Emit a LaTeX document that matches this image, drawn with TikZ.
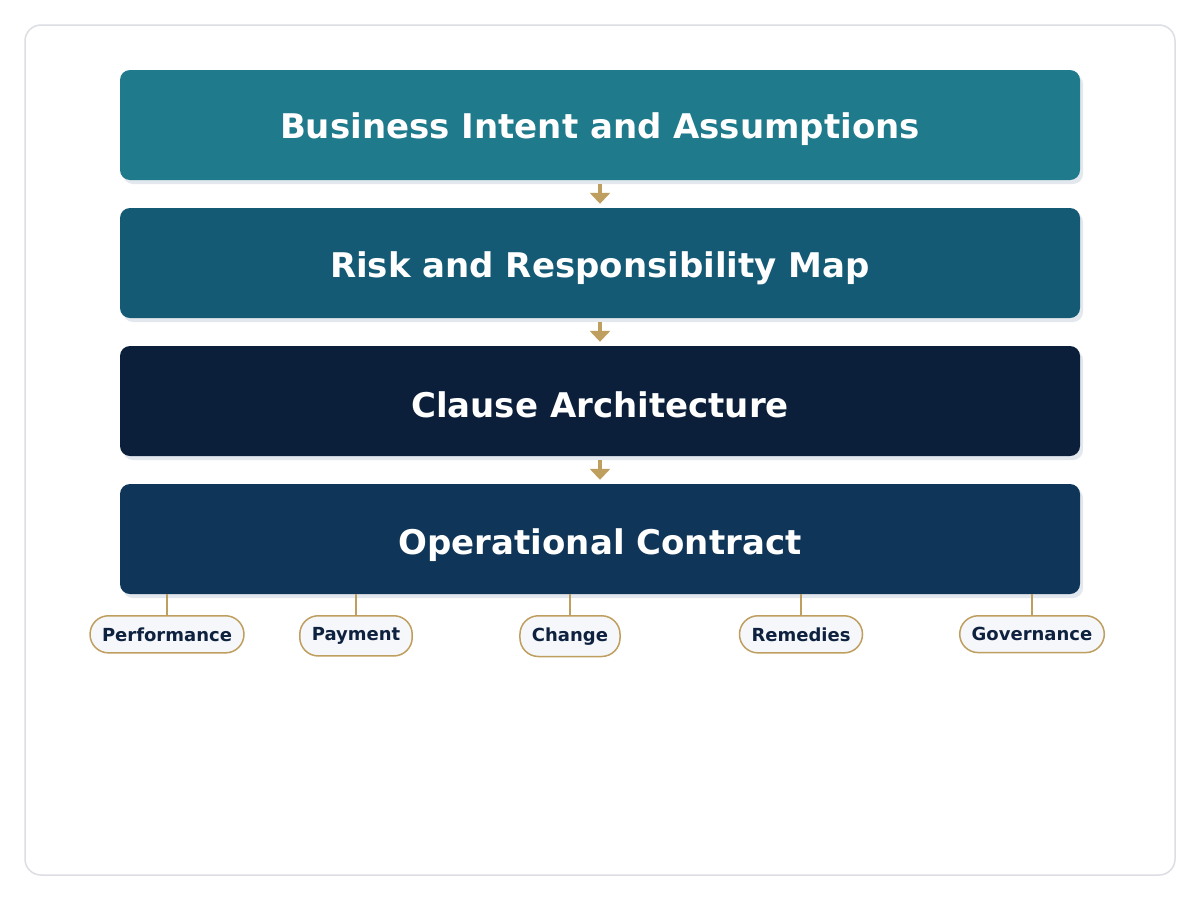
\documentclass[tikz,border=0pt]{standalone}
\usepackage{fontspec}
\setmainfont{DejaVu Sans}
\usetikzlibrary{arrows.meta,shadows}
\definecolor{frameC}{HTML}{DDDEE3}
\definecolor{shadowC}{HTML}{E3E8EE}
\definecolor{cA}{HTML}{1F7A8C}
\definecolor{cB}{HTML}{155A75}
\definecolor{cC}{HTML}{0B1F3A}
\definecolor{cD}{HTML}{0F3558}
\definecolor{gold}{HTML}{BF9F5F}
\definecolor{pillFill}{HTML}{F5F7FA}
\definecolor{navy}{HTML}{0E2240}
\tikzset{
  layer/.style={rectangle, rounded corners=10pt, minimum width=960pt, minimum height=110pt,
    inner sep=0pt, text=white, font=\bfseries\fontsize{34}{40}\selectfont, text depth=0pt,
    drop shadow={shadow xshift=3pt, shadow yshift=-4pt, fill=shadowC, opacity=1}},
  flowarrow/.style={draw=gold, line width=4pt, -{Triangle[width=20pt,length=11pt]},
    shorten <=4pt, shorten >=4pt},
  pill/.style={rectangle, rounded corners=18.5pt, draw=gold, line width=1.5pt, fill=pillFill,
    text=navy, font=\bfseries\fontsize{18}{21}\selectfont, inner xsep=12pt, inner ysep=11.6pt,
    anchor=north},
  stub/.style={draw=gold, line width=1.5pt}
}
\begin{document}
\begin{tikzpicture}[x=1pt,y=-1pt]
\useasboundingbox (0,0) rectangle (1200,900);
\fill[white] (0,0) rectangle (1200,900);
\draw[frameC, line width=1.5pt, rounded corners=16pt] (25,25) rectangle (1175,875);

\node[layer, fill=cA, text height=26pt] (b1) at (600,125) {Business Intent and Assumptions};
\node[layer, fill=cB, text height=28pt] (b2) at (600,263) {Risk and Responsibility Map};
\node[layer, fill=cC, text height=32pt] (b3) at (600,401) {Clause Architecture};
\node[layer, fill=cD, text height=30pt] (b4) at (600,539) {Operational Contract};

\draw[flowarrow] (b1.south) -- (b2.north);
\draw[flowarrow] (b2.south) -- (b3.north);
\draw[flowarrow] (b3.south) -- (b4.north);

\node[pill] (p1) at (167,615) {Performance};
\node[pill] (p2) at (356,615) {Payment};
\node[pill] (p3) at (570,615) {Change};
\node[pill] (p4) at (801,615) {Remedies};
\node[pill] (p5) at (1032,615) {Governance};

\draw[stub] (p1.north |- b4.south) -- (p1.north);
\draw[stub] (p2.north |- b4.south) -- (p2.north);
\draw[stub] (p3.north |- b4.south) -- (p3.north);
\draw[stub] (p4.north |- b4.south) -- (p4.north);
\draw[stub] (p5.north |- b4.south) -- (p5.north);
\end{tikzpicture}
\end{document}
